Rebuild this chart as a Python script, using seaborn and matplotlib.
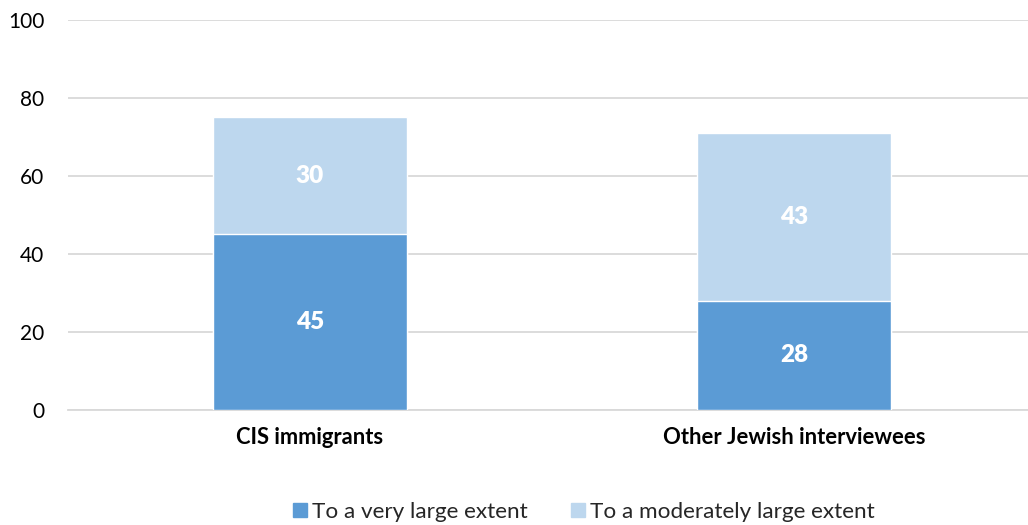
import matplotlib
matplotlib.use("Agg")
import matplotlib.pyplot as plt
from matplotlib.lines import Line2D
import seaborn as sns
import pandas as pd

# Survey shares (%) by group
groups = ["CIS immigrants", "Other Jewish interviewees"]
very_large = [45, 28]
moderately_large = [30, 43]
series_names = ["To a very large extent", "To a moderately large extent"]
y_ticks = [0, 20, 40, 60, 80, 100]

dark_blue = "#5B9BD5"
light_blue = "#BDD7EE"

sns.set_theme(style="white")
plt.rcParams["font.family"] = ["Lato", "DejaVu Sans"]

df = pd.DataFrame({
    "group": groups,
    "very": very_large,
    "moderate": moderately_large,
})
df["total"] = df["very"] + df["moderate"]

fig = plt.figure(figsize=(10.28, 5.25), dpi=100)
ax = fig.add_axes([0.066, 0.219, 0.942, 0.743])

# Stacked look: full totals in light blue, lower segment in dark blue on top
sns.barplot(data=df, x="group", y="total", color=light_blue, width=0.4,
            saturation=1, ax=ax, zorder=2)
sns.barplot(data=df, x="group", y="very", color=dark_blue, width=0.4,
            saturation=1, ax=ax, zorder=3)

for i, (v, m) in enumerate(zip(very_large, moderately_large)):
    ax.text(i, v / 2, f"{v}", ha="center", va="center", color="white",
            fontsize=17.5, fontweight="heavy", zorder=4)
    ax.text(i, v + m / 2, f"{m}", ha="center", va="center", color="white",
            fontsize=17.5, fontweight="heavy", zorder=4)

ax.set_ylim(0, 100)
ax.set_xlim(-0.5, 1.5)
ax.set_yticks(y_ticks)
ax.yaxis.grid(True, color="#D9D9D9", linewidth=1.3, zorder=0)
ax.set_axisbelow(True)
ax.set_xlabel("")
ax.set_ylabel("")
for side in ["top", "right", "left"]:
    ax.spines[side].set_visible(False)
ax.spines["bottom"].set_color("#D9D9D9")
ax.spines["bottom"].set_linewidth(1.3)
ax.tick_params(axis="both", length=0, colors="black")
ax.tick_params(axis="y", labelsize=15, pad=17)
ax.tick_params(axis="x", labelsize=15.8, pad=12)
for lbl in ax.get_xticklabels():
    lbl.set_fontweight("bold")

handles = [
    Line2D([0], [0], marker="s", linestyle="", markersize=10.5,
           markerfacecolor=dark_blue, markeredgecolor=dark_blue),
    Line2D([0], [0], marker="s", linestyle="", markersize=10.5,
           markerfacecolor=light_blue, markeredgecolor=light_blue),
]
fig.legend(handles, series_names, loc="center", bbox_to_anchor=(0.566, 0.025),
           ncol=2, frameon=False, fontsize=16.2, handletextpad=0.05,
           columnspacing=1.7, handlelength=1.0)

fig.savefig("out.png", dpi=100, facecolor="white")
